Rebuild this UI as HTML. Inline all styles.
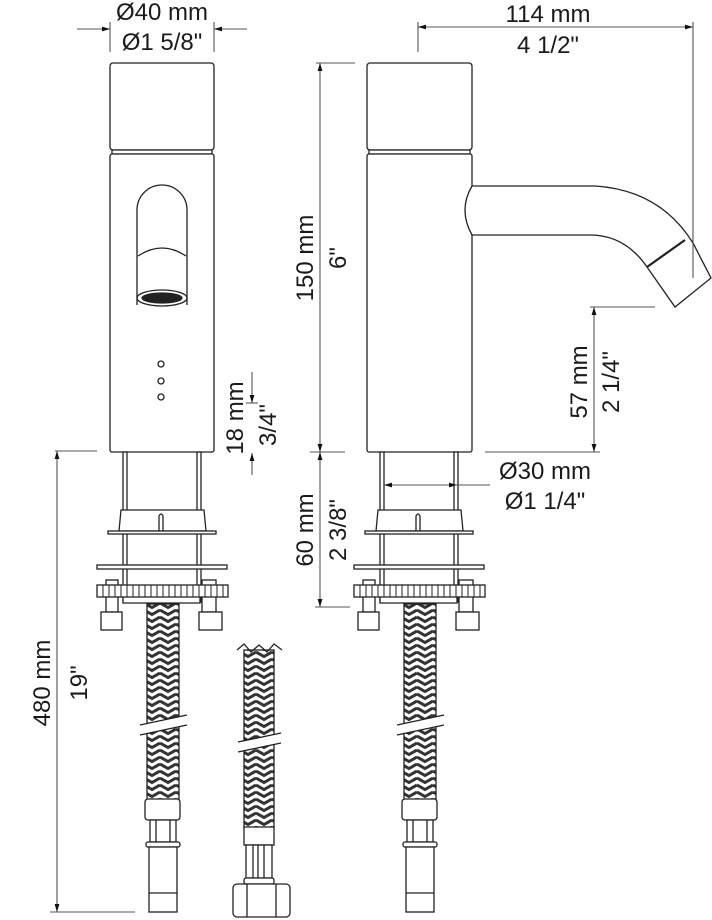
<!DOCTYPE html>
<html><head><meta charset="utf-8"><style>
html,body{margin:0;padding:0;background:#fff}
svg{display:block}
text{font-family:"Liberation Sans",sans-serif;font-size:24px;fill:#1a1a1a}
</style></head><body>
<svg width="712" height="920" viewBox="0 0 712 920" xmlns="http://www.w3.org/2000/svg">
<defs>
<pattern id="braid" width="16" height="7" patternUnits="userSpaceOnUse">
<rect width="16" height="7" fill="#fff"/>
<path d="M0,1 L8,5.5 L16,1" stroke="#333" stroke-width="3" fill="none"/>
<path d="M0,8 L8,12.5 L16,8" stroke="#333" stroke-width="3" fill="none"/>
<path d="M0,-6 L8,-1.5 L16,-6" stroke="#333" stroke-width="3" fill="none"/>
</pattern>
<marker id="ar" viewBox="0 0 10 10" refX="10" refY="5" markerWidth="8" markerHeight="8" orient="auto-start-reverse" markerUnits="userSpaceOnUse">
<path d="M0,2 L10,5 L0,8 Z" fill="#111"/>
</marker>
<g id="base" fill="#fff" stroke="#222" stroke-width="1.3">
<rect x="123" y="452" width="4" height="150"/>
<rect x="197" y="452" width="4" height="150"/>
<path d="M121,510 H204 L206,531 H119 Z"/>
<path d="M159,531 V516 Q161,512 163,516 V531" fill="none"/>
<rect x="108" y="531" width="108" height="3"/>
<rect x="97" y="565" width="130" height="4"/>
<path d="M123,597 V603 H200 V597"/>
<rect x="106" y="580" width="12" height="32"/>
<rect x="202" y="580" width="14" height="32"/>
<rect x="97" y="585" width="131" height="12"/>
<path d="M103,585 V597 M109,585 V597 M115,585 V597 M121,585 V597 M127,585 V597 M133,585 V597 M139,585 V597 M145,585 V597 M151,585 V597 M157,585 V597 M163,585 V597 M169,585 V597 M175,585 V597 M181,585 V597 M187,585 V597 M193,585 V597 M199,585 V597 M205,585 V597 M211,585 V597 M217,585 V597 M223,585 V597" stroke-width="1"/>
<rect x="101" y="612" width="21" height="18"/>
<rect x="199" y="612" width="23" height="18"/>
<rect x="147" y="604" width="32" height="196" fill="url(#braid)"/>
<path d="M141,725 L186,715 L186,725 L141,735 Z" fill="#fff" stroke="none"/>
<path d="M140,725 L187,715 M140,735 L187,725"/>
<rect x="145" y="799" width="35" height="21" rx="3"/>
<rect x="150" y="820" width="26" height="22"/>
<path d="M156,820 V842 M170,820 V842" fill="none"/>
<rect x="146" y="842" width="34" height="5" rx="2"/>
<rect x="149" y="847" width="28" height="65"/>
<path d="M149,893 H177" fill="none"/>
</g>
</defs>

<g fill="#fff" stroke="#222" stroke-width="1.3">
<rect x="110" y="63" width="104" height="87" rx="3"/>
<rect x="112" y="150" width="100" height="4"/>
<rect x="110" y="154" width="104" height="298" rx="2"/>
<path d="M137,305 V210 A25,25 0 0 1 187,210 V305" />
<path d="M138,256 Q162,240 186,256" fill="none"/>
<ellipse cx="162" cy="298" rx="25" ry="8"/>
<ellipse cx="162" cy="298" rx="20" ry="5" fill="#222"/>
<circle cx="161" cy="364" r="3"/><circle cx="161" cy="381" r="3"/><circle cx="161" cy="397" r="3"/>
<rect x="367" y="63" width="105" height="87" rx="3"/>
<rect x="369" y="150" width="101" height="4"/>
<rect x="367" y="154" width="105" height="298" rx="2"/>
<path d="M472,186 H595 Q660,190 693,243 L711,278 L675,307 L647,267 Q625,235 590,235 H472 Q458,210 472,186 Z"/>
<path d="M647,267 L685,240" stroke-width="2.2"/>
</g>
<use href="#base"/>
<use href="#base" transform="translate(257,0)"/>

<g fill="#fff" stroke="#222" stroke-width="1.3">
<rect x="244" y="650" width="30" height="178" fill="url(#braid)"/>
<path d="M237,650 L244,644 L251,652 L259,645 L267,652 L274,644 L282,650" fill="none"/>
<path d="M238,742 L281,733 L281,743 L238,752 Z" fill="#fff" stroke="none"/>
<path d="M238,742 L281,733 M238,752 L281,743"/>
<rect x="244" y="827" width="30" height="18"/>
<rect x="246" y="845" width="26" height="33"/>
<path d="M253,845 V878 M258,845 V878 M264,845 V878" fill="none"/>
<rect x="244" y="878" width="30" height="6" rx="2"/>
<rect x="233" y="884" width="57" height="33" rx="4"/>
<path d="M247,884 V917 M276,884 V917" fill="none"/>
</g>

<g stroke="#555" stroke-width="1.1" fill="none">
<path d="M110,22 V52 M214,22 V52"/>
<path d="M77,29 H110" marker-end="url(#ar)"/>
<path d="M247,29 H214" marker-end="url(#ar)"/>
<path d="M418,22 V52 M693,22 V278"/>
<path d="M418,27 H693" marker-start="url(#ar)" marker-end="url(#ar)"/>
<path d="M316,63 H355 M310,452 H345"/>
<path d="M320,63 V452" marker-start="url(#ar)" marker-end="url(#ar)"/>
<path d="M320,452 V607" marker-start="url(#ar)" marker-end="url(#ar)"/>
<path d="M315,607 H350"/>
<path d="M590,307 H655 M485,452 H600"/>
<path d="M594,307 V452" marker-start="url(#ar)" marker-end="url(#ar)"/>
<path d="M384,485 H457" marker-start="url(#ar)" marker-end="url(#ar)"/>
<path d="M457,485 H490"/>
<path d="M55,451 H97 M50,912 H135"/>
<path d="M57,451 V912" marker-start="url(#ar)" marker-end="url(#ar)"/>
<path d="M252,372 V403" marker-end="url(#ar)"/>
<path d="M246,403 H258"/>
<path d="M252,475 V453" marker-end="url(#ar)"/>
</g>

<text x="162" y="20" text-anchor="middle">Ø40 mm</text>
<text x="162" y="50" text-anchor="middle">Ø1 5/8"</text>
<text x="548" y="22" text-anchor="middle">114 mm</text>
<text x="548" y="53" text-anchor="middle">4 1/2"</text>
<text transform="translate(313,258) rotate(-90)" text-anchor="middle">150 mm</text>
<text transform="translate(346,258) rotate(-90)" text-anchor="middle">6"</text>
<text transform="translate(313,530) rotate(-90)" text-anchor="middle">60 mm</text>
<text transform="translate(346,530) rotate(-90)" text-anchor="middle">2 3/8"</text>
<text transform="translate(587,382) rotate(-90)" text-anchor="middle">57 mm</text>
<text transform="translate(619,382) rotate(-90)" text-anchor="middle">2 1/4"</text>
<text transform="translate(243,418) rotate(-90)" text-anchor="middle">18 mm</text>
<text transform="translate(276,425) rotate(-90)" text-anchor="middle">3/4"</text>
<text transform="translate(50,683) rotate(-90)" text-anchor="middle">480 mm</text>
<text transform="translate(87,683) rotate(-90)" text-anchor="middle">19"</text>
<text x="545" y="479" text-anchor="middle">Ø30 mm</text>
<text x="545" y="509" text-anchor="middle">Ø1 1/4"</text>
</svg>
</body></html>
